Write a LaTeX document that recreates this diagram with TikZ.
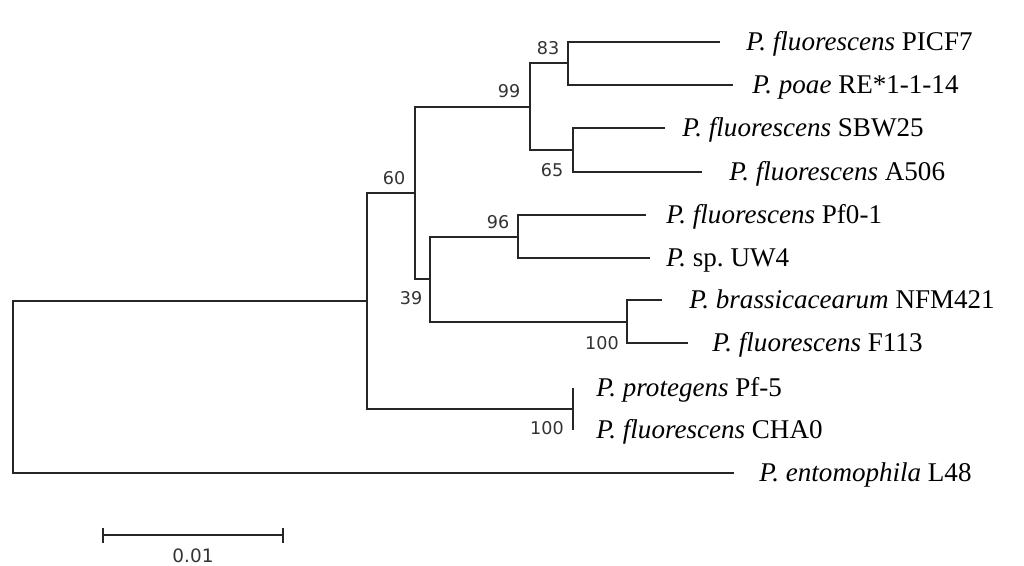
\documentclass[tikz,border=0pt]{standalone}
\usepackage{fontspec}
\setmainfont{Liberation Serif}
\newfontfamily\bootfont{DejaVu Sans}
\usetikzlibrary{positioning}
\frenchspacing

\begin{document}
\begin{tikzpicture}[x=0.02cm,y=-0.02cm,
  branch/.style={draw=black!85,line width=1pt},
  leaf/.style={anchor=base west,inner sep=0pt,yshift=-0.16cm,
               font=\fontsize{15.4}{18}\selectfont},
  boot/.style={inner sep=0pt,text=black!80,font=\bootfont\fontsize{10}{12}\selectfont}]
\useasboundingbox (0,0) rectangle (1024,565);

% internal nodes
\coordinate (root)    at ( 13,387);
\coordinate (ingroup) at (367,301);
\coordinate (fluo)    at (415,193);
\coordinate (c99)     at (530,107);
\coordinate (c83)     at (568, 63);
\coordinate (c65)     at (573,150);
\coordinate (c39)     at (430,279);
\coordinate (c96)     at (518,237);
\coordinate (c100a)   at (627,322);
\coordinate (c100b)   at (573,409);

% branch tips
\coordinate (tpicf) at (720, 42);
\coordinate (tpoae) at (733, 85);
\coordinate (tsbw)  at (665,128);
\coordinate (ta506) at (702,172);
\coordinate (tpf01) at (646,215);
\coordinate (tuw4)  at (650,258);
\coordinate (tnfm)  at (662,300);
\coordinate (tf113) at (688,343);
\coordinate (tpf5)  at (573,388);
\coordinate (tcha)  at (573,430);
\coordinate (tento) at (734,473);

% taxa
\node[leaf] (lpicf) at (746, 42) {\textit{P. fluorescens} PICF7};
\node[leaf] (lpoae) at (752, 85) {\textit{P. poae} RE*1-1-14};
\node[leaf] (lsbw)  at (682,128) {\textit{P. fluorescens} SBW25};
\node[leaf] (la506) at (729,172) {\textit{P. fluorescens} A506};
\node[leaf] (lpf01) at (666,215) {\textit{P. fluorescens} Pf0-1};
\node[leaf] (luw4)  at (666,258) {\textit{P.} sp. UW4};
\node[leaf] (lnfm)  at (689,300) {\textit{P. brassicacearum} NFM421};
\node[leaf] (lf113) at (712,343) {\textit{P. fluorescens} F113};
\node[leaf] (lpf5)  at (596,388) {\textit{P. protegens} Pf-5};
\node[leaf] (lcha)  at (596,430) {\textit{P. fluorescens} CHA0};
\node[leaf] (lento) at (759,473) {\textit{P. entomophila} L48};

% branches
\draw[branch] (root) |- (ingroup);
\draw[branch] (root) |- (tento);
\draw[branch] (ingroup) |- (fluo);
\draw[branch] (ingroup) |- (c100b);
\draw[branch] (fluo) |- (c99);
\draw[branch] (fluo) |- (c39);
\draw[branch] (c99) |- (c83);
\draw[branch] (c99) |- (c65);
\draw[branch] (c83) |- (tpicf);
\draw[branch] (c83) |- (tpoae);
\draw[branch] (c65) |- (tsbw);
\draw[branch] (c65) |- (ta506);
\draw[branch] (c39) |- (c96);
\draw[branch] (c39) |- (c100a);
\draw[branch] (c96) |- (tpf01);
\draw[branch] (c96) |- (tuw4);
\draw[branch] (c100a) |- (tnfm);
\draw[branch] (c100a) |- (tf113);
\draw[branch] (tpf5) -- (tcha);

% bootstrap values
\node[boot] (b83)  at (548, 48) {83};
\node[boot] (b99)  at (509, 91) {99};
\node[boot] (b65)  at (552,170) {65};
\node[boot] (b60)  at (394,178) {60};
\node[boot] (b96)  at (498,222) {96};
\node[boot] (b39)  at (411,298) {39};
\node[boot] (b100a) at (602,343) {100};
\node[boot] (b100b) at (547,428) {100};

% scale bar
\coordinate (sbl) at (103,535);
\coordinate (sbr) at (283,535);
\draw[branch] (sbl) -- (sbr);
\draw[branch] ([yshift=0.15cm]sbl) -- ([yshift=-0.15cm]sbl);
\draw[branch] ([yshift=0.15cm]sbr) -- ([yshift=-0.15cm]sbr);
\node[boot,font=\bootfont\fontsize{10.5}{12}\selectfont] (sblab) at (193,556) {0.01};
\end{tikzpicture}
\end{document}
